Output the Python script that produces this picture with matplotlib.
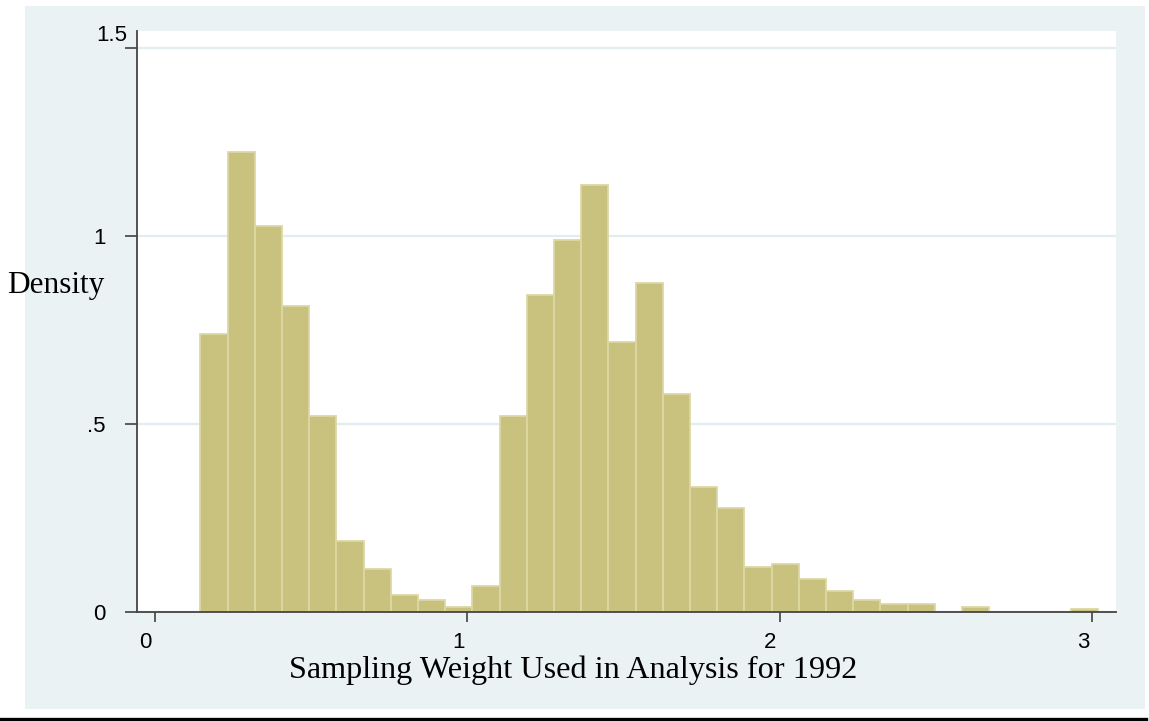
import numpy as np
import matplotlib
matplotlib.use("Agg")
import matplotlib.pyplot as plt
from matplotlib.transforms import ScaledTranslation
from matplotlib.patches import Rectangle
from matplotlib.lines import Line2D

# histogram of sampling weights, 33 equal-width bins
bin_lo = 0.1466
bin_hi = 3.019
density = [0.739, 1.223, 1.027, 0.813, 0.522, 0.189, 0.115, 0.044, 0.031, 0.013,
           0.070, 0.522, 0.843, 0.989, 1.135, 0.718, 0.876, 0.579, 0.333, 0.277,
           0.120, 0.127, 0.089, 0.057, 0.032, 0.020, 0.020, 0.000, 0.013, 0.000,
           0.000, 0.000, 0.008]

xticks = [0, 1, 2, 3]
yticks = [0, 0.5, 1, 1.5]
ytick_labels = ['0', '.5', '1', '1.5']

edges = np.linspace(bin_lo, bin_hi, len(density) + 1)
width = edges[1] - edges[0]

fig = plt.figure(figsize=(11.49, 7.21), dpi=100)
fig.patch.set_facecolor('white')

# graph region background
fig.add_artist(Rectangle((25 / 1149, 12 / 721), 1120 / 1149, 703 / 721,
                         transform=fig.transFigure, facecolor='#EAF2F3',
                         edgecolor='none', zorder=0))
# rule under the graph
fig.add_artist(Line2D([0.0, 0.997], [1.6 / 721, 1.6 / 721], transform=fig.transFigure,
                      color='black', linewidth=2.4))

ax = fig.add_axes([137 / 1149, 109 / 721, 979 / 1149, 581 / 721])
ax.set_facecolor('white')

ax.bar(edges[:-1], density, width=width, align='edge',
       color='#C9C27F', edgecolor='#DCD8A4', linewidth=1.3, zorder=2)

ax.set_xlim(-0.056, 3.0768)
ax.set_ylim(0, 1.545)

ax.set_xticks(xticks)
ax.set_xticklabels([str(t) for t in xticks])
ax.set_yticks(yticks)
ax.set_yticklabels(ytick_labels)

ax.grid(axis='y', color='#E3ECEF', linewidth=1.6)
ax.set_axisbelow(True)

for s in ['top', 'right']:
    ax.spines[s].set_visible(False)
for s in ['left', 'bottom']:
    ax.spines[s].set_color('#444444')
    ax.spines[s].set_linewidth(1.3)
    ax.spines[s].set_zorder(3)

ax.tick_params(axis='x', direction='out', length=7.2, width=1.1, color='#333333',
               pad=7, labelsize=16)
ax.tick_params(axis='y', direction='out', length=8.6, width=1.1, color='#333333',
               pad=14, labelsize=16)
for lab in ax.get_xticklabels() + ax.get_yticklabels():
    lab.set_fontfamily('Liberation Sans')

# tick labels sit a little left of their ticks
shift = ScaledTranslation(-0.09, 0, fig.dpi_scale_trans)
for lab in ax.get_xticklabels():
    lab.set_transform(lab.get_transform() + shift)
top_lab = ax.get_yticklabels()[-1]
top_lab.set_transform(top_lab.get_transform() + ScaledTranslation(0.22, 0.15, fig.dpi_scale_trans))

ax.set_xlabel('Sampling Weight Used in Analysis for 1992', fontfamily='Liberation Serif',
              fontsize=23.2, va='center')
ax.xaxis.set_label_coords(0.4454, -0.0998)
ax.set_ylabel('Density', fontfamily='Liberation Serif', fontsize=22.5,
              rotation=0, ha='center', va='center')
ax.yaxis.set_label_coords(-0.0832, 0.5628)

fig.savefig('out.png', dpi=100)
